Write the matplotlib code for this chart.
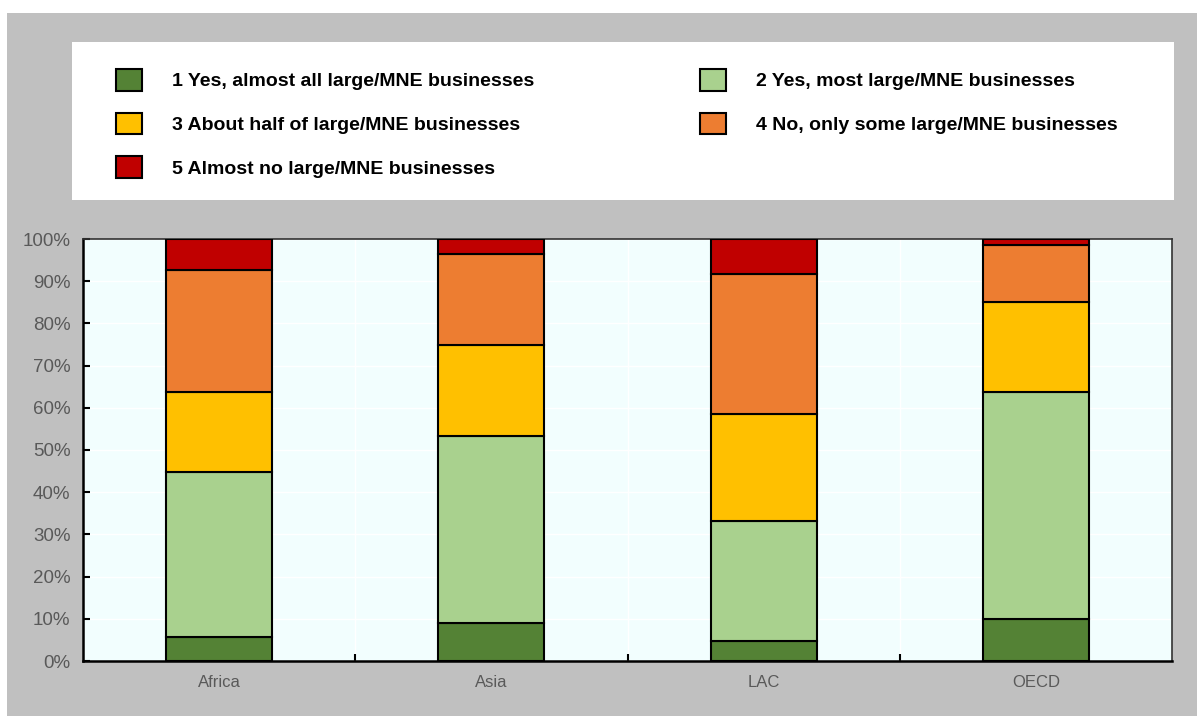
import matplotlib
matplotlib.use("Agg")
import matplotlib.pyplot as plt
from matplotlib.patches import Rectangle
import numpy as np

plt.rcParams['font.family'] = ['Liberation Sans', 'DejaVu Sans']

regions = ['Africa', 'Asia', 'LAC', 'OECD']
labels = ['1 Yes, almost all large/MNE businesses',
          '2 Yes, most large/MNE businesses',
          '3 About half of large/MNE businesses',
          '4 No, only some large/MNE businesses',
          '5 Almost no large/MNE businesses']
colors = ['#548235', '#A9D18E', '#FFC000', '#ED7D31', '#C00000']

# shares in % per answer, one value per region
yes_almost_all = [5.8, 9.1, 4.7, 10.0]
yes_most = [39.0, 44.1, 28.4, 53.8]
about_half = [19.0, 21.7, 25.4, 21.2]
only_some = [28.9, 21.6, 33.3, 13.6]
almost_none = [7.3, 3.5, 8.2, 1.4]
series = [yes_almost_all, yes_most, about_half, only_some, almost_none]

W, H = 1197, 716
fig = plt.figure(figsize=(W / 100, H / 100), dpi=100, facecolor='white')

# grey frame and white legend panel
fig.patches.append(Rectangle((7 / W, 0), 1 - 7 / W, 1 - 13 / H, transform=fig.transFigure,
                             facecolor='#C0C0C0', edgecolor='none', zorder=-10))
fig.patches.append(Rectangle((72 / W, 1 - 200 / H), (1174 - 72) / W, (200 - 42) / H,
                             transform=fig.transFigure, facecolor='white',
                             edgecolor='none', zorder=-9))

ax = fig.add_axes([83 / W, 1 - 661 / H, (1172 - 83) / W, (661 - 239) / H])
ax.set_facecolor('#F2FEFE')

x = np.arange(len(regions))
bottom = np.zeros(len(regions))
handles = []
for vals, col, lab in zip(series, colors, labels):
    b = ax.bar(x, vals, 0.39, bottom=bottom, color=col, edgecolor='black',
               linewidth=1.5, label=lab, zorder=3)
    handles.append(b)
    bottom += np.array(vals)

ax.set_xlim(-0.5, len(regions) - 0.5)
ax.set_ylim(0, 100)
ax.set_yticks(np.arange(0, 101, 10))
ax.set_yticklabels([f'{v}%' for v in range(0, 101, 10)])
ax.set_xticks(x)
ax.set_xticklabels(regions)
ax.set_xticks(x[:-1] + 0.5, minor=True)
ax.tick_params(axis='x', which='major', length=0, pad=10, labelsize=12, labelcolor='#595959')
ax.tick_params(axis='x', which='minor', direction='in', length=5, width=1.5, color='black')
ax.tick_params(axis='y', direction='in', length=5, width=1.5, pad=9, labelsize=13.5,
               labelcolor='#595959')
ax.grid(axis='y', color='white', linewidth=1, zorder=0)
ax.grid(axis='x', which='minor', color='white', linewidth=1, zorder=0)
for side in ['left', 'bottom']:
    ax.spines[side].set_linewidth(1.8)
    ax.spines[side].set_color('black')
for side in ['top', 'right']:
    ax.spines[side].set_linewidth(1.2)
    ax.spines[side].set_color('#333333')

order = [0, 2, 4, 1, 3]
fig.legend([handles[i] for i in order], [labels[i] for i in order], ncol=2,
           loc='upper left', bbox_to_anchor=(116 / W, 1 - 69 / H), frameon=False,
           borderpad=0, borderaxespad=0, handlelength=1.34, handleheight=1.34,
           handletextpad=1.55, columnspacing=8.5, labelspacing=1.13,
           prop={'weight': 'bold', 'size': 14})

fig.savefig('out.png', dpi=100, facecolor=fig.get_facecolor())
